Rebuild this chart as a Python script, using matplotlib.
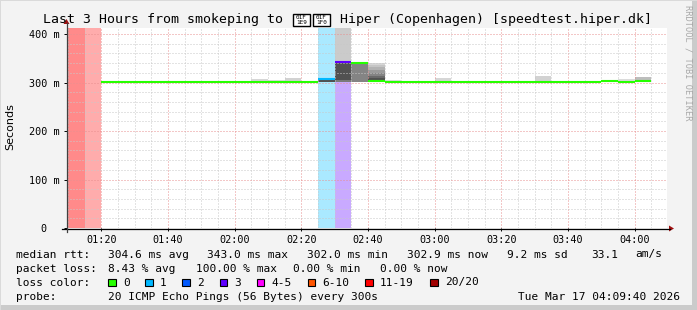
import numpy as np
import matplotlib
matplotlib.use("Agg")
import matplotlib.pyplot as plt
from matplotlib.lines import Line2D
from matplotlib.patches import Polygon, Rectangle

W, H = 697, 310
MONO = "DejaVu Sans Mono"

# time axis in minutes after midnight, 5 minute bins starting 01:05
t_start, t_end = 69 + 40 / 60, 249 + 40 / 60
bin_start = np.arange(65, 250, 5)

# median rtt (ms) per bin, nan = no answer
median_ms = [np.nan, np.nan, np.nan, 302, 302, 302, 302, 302, 302, 302,
             302, 302, 302, 302, 302, 302, 307, 343, 340, 304,
             302, 302, 302, 302, 302, 302, 302, 302, 302, 302,
             302, 302, 302, 304, 302, 303, np.nan]
# lost pings (of 20) per bin
lost = [20, 20, 19, 0, 0, 0, 0, 0, 0, 0,
        0, 0, 0, 0, 0, 0, 1, 3, 0, 0,
        0, 0, 0, 0, 0, 0, 0, 0, 0, 0,
        0, 0, 0, 0, 0, 0, 0]

# smoke bands: bin index, low / high rtt (ms), share of pings inside
smoke_bin = [12, 13, 14, 16, 17, 17, 17, 18, 18,
             19, 19, 19, 19, 19, 19, 19, 20, 23, 29, 34, 35]
smoke_lo = [302, 302, 302, 301.5, 302, 302, 305, 302, 302,
            302, 303, 303.5, 304, 304, 305, 305, 302, 302, 302, 302, 302]
smoke_hi = [307, 306, 309, 307, 430, 305, 343, 343, 339,
            340, 336, 331, 326, 320, 314, 310, 305, 309, 313, 307, 312]
smoke_share = [0.15, 0.12, 0.18, 0.8, 0.22, 0.6, 0.8, 0.2, 0.55,
               0.15, 0.25, 0.35, 0.45, 0.55, 0.68, 0.8, 0.12, 0.15, 0.18, 0.12, 0.3]

loss_labels = ["0", "1", "2", "3", "4-5", "6-10", "11-19", "20/20"]
loss_colors = ["#26ff00", "#00b8ff", "#0059ff", "#5e00ff", "#ff00ff",
               "#ff5500", "#ff0000", "#a10000"]
bg_colors = {1: "#aae9ff", 3: "#c9aaff", 19: "#ffacac", 20: "#ff8a8a"}

y_ticks = [0, 100, 200, 300, 400]
y_labels = ["0  ", "100 m", "200 m", "300 m", "400 m"]
x_ticks = [80, 100, 120, 140, 160, 180, 200, 220, 240]

# title; the flag (U+1F1E9 U+1F1F0) has no glyph in any installed font,
# so it is drawn as the hex boxes the reference shows
title_left = "Last 3 Hours from smokeping to"
title_flag = ["1F1E9", "1F1F0"]
title_right = "Hiper (Copenhagen) [speedtest.hiper.dk]"
rtt_stats = ["304.6 ms avg", "343.0 ms max", "302.0 ms min", "302.9 ms now",
             "9.2 ms sd", "33.1", "am/s"]
loss_stats = ["8.43 % avg", "100.00 % max", "0.00 % min", "0.00 % now"]
probe_text = "20 ICMP Echo Pings (56 Bytes) every 300s"
stamp = "Tue Mar 17 04:09:40 2026"


def loss_color(n):
    if n <= 3:
        return loss_colors[n]
    if n <= 5:
        return loss_colors[4]
    if n <= 10:
        return loss_colors[5]
    if n <= 19:
        return loss_colors[6]
    return loss_colors[7]


def fx(x):
    return x / W


def fy(y):
    return 1 - y / H


fig = plt.figure(figsize=(W / 100, H / 100), dpi=100, facecolor="#f3f3f3")

# frame shading
fig.add_artist(Rectangle((fx(W - 5), 0), 5 / W, 1, transform=fig.transFigure,
                         color="#cbcbcb", lw=0))
fig.add_artist(Rectangle((0, 0), 1, 5 / H, transform=fig.transFigure,
                         color="#cbcbcb", lw=0))
fig.add_artist(Rectangle((0, fy(1)), 1, 1 / H, transform=fig.transFigure,
                         color="#dadada", lw=0))
fig.add_artist(Rectangle((0, 0), 1 / W, 1, transform=fig.transFigure,
                         color="#dadada", lw=0))

ax = fig.add_axes([fx(67), fy(228), 600 / W, 200 / H])
ax.set_facecolor("white")
ax.set_xlim(t_start, t_end)
ax.set_ylim(0, 412.4)
for s in ax.spines.values():
    s.set_visible(False)

# loss backgrounds
for b, n in zip(bin_start, lost):
    if n in bg_colors:
        ax.axvspan(b, b + 5, color=bg_colors[n], lw=0, zorder=1)

# smoke
greys = plt.get_cmap("Greys")
for j, lo, hi, sh in zip(smoke_bin, smoke_lo, smoke_hi, smoke_share):
    ax.bar(bin_start[j], hi - lo, bottom=lo, width=5, align="edge",
           color=greys(0.15 + 0.75 * sh), lw=0, zorder=1.2)

# grid
ax.set_xticks(x_ticks)
ax.set_xticks(np.arange(70, 250, 5), minor=True)
ax.set_yticks(y_ticks)
ax.set_yticks(np.arange(0, 412, 20), minor=True)
ax.set_axisbelow(False)
ax.grid(which="minor", color="#c8c8c8", lw=0.72, linestyle=(0, (1, 2)))
ax.grid(which="major", color="#e89090", lw=0.72, linestyle=(0, (1, 2)))

# median rtt
for b, m, n in zip(bin_start, median_ms, lost):
    if not np.isnan(m):
        ax.hlines(m, b, b + 5, colors=loss_color(n), lw=1.5, zorder=3)

ax.set_xticklabels(["%02d:%02d" % (t // 60, t % 60) for t in x_ticks],
                   family=MONO, fontsize=7.3)
ax.set_yticklabels(y_labels, family=MONO, fontsize=7.3)
ax.tick_params(which="major", length=2.5, width=0.7, pad=3)
ax.tick_params(which="minor", length=0)
ax.tick_params(axis="x", pad=2.5)

# axes with arrows
fig.add_artist(Line2D([fx(62), fx(670)], [fy(228.5), fy(228.5)], color="black", lw=0.9))
fig.add_artist(Line2D([fx(66.5), fx(66.5)], [fy(232), fy(23)], color="#404040", lw=0.9))
fig.add_artist(Polygon([[fx(669), fy(225.5)], [fx(669), fy(231.5)], [fx(674), fy(228.5)]],
                       closed=True, transform=fig.transFigure, color="#a01010", lw=0))
fig.add_artist(Polygon([[fx(63.5), fy(24)], [fx(69.5), fy(24)], [fx(66.5), fy(19)]],
                       closed=True, transform=fig.transFigure, color="#a01010", lw=0))

# title
fig.text(fx(283), fy(19.5), title_left, ha="right", va="center", family=MONO, fontsize=9.5)
for bx, code in zip([293, 313], title_flag):
    fig.add_artist(Rectangle((fx(bx), fy(26)), 17 / W, 12 / H, transform=fig.transFigure,
                             facecolor="white", edgecolor="black", lw=1.0))
    fig.text(fx(bx + 8.5), fy(20), "0" + code[:2] + "\n" + code[2:], ha="center",
             va="center", family=MONO, fontsize=4.3, linespacing=0.9)
fig.text(fx(340), fy(19.5), title_right, ha="left", va="center", family=MONO, fontsize=9.5)

fig.text(fx(10), fy(127), "Seconds", rotation=90, ha="center", va="center",
         family="DejaVu Sans", fontsize=8)
fig.text(fx(688), fy(5), "RRDTOOL / TOBI OETIKER", rotation=-90, ha="center", va="top",
         family=MONO, fontsize=6.2, color="#a8a8a8")

# legend block
fs = 8
row_y = [254.5, 268.5, 282.5, 296.5]
fig.text(fx(16.4), fy(row_y[0]), "median rtt:", va="center", family=MONO, fontsize=fs)
for x, s in zip([107.6, 207, 306.7, 406.7, 506.7, 591, 635.6], rtt_stats):
    fig.text(fx(x), fy(row_y[0]), s, va="center", family=MONO, fontsize=fs)
fig.text(fx(16.4), fy(row_y[1]), "packet loss:", va="center", family=MONO, fontsize=fs)
for x, s in zip([107.6, 195.6, 293.3, 380], loss_stats):
    fig.text(fx(x), fy(row_y[1]), s, va="center", family=MONO, fontsize=fs)
fig.text(fx(16.4), fy(row_y[2]), "loss color:", va="center", family=MONO, fontsize=fs)
for x, lab, c in zip([108.3, 145.3, 182.2, 219.6, 256.9, 307.6, 365.3, 430.2],
                     loss_labels, loss_colors):
    fig.add_artist(Rectangle((fx(x), fy(row_y[2] + 3.8)), 7.5 / W, 7.5 / H,
                             transform=fig.transFigure, facecolor=c,
                             edgecolor="black", lw=0.8))
    fig.text(fx(x + 14.5), fy(row_y[2]), lab, va="center", family=MONO, fontsize=fs)
fig.text(fx(16.4), fy(row_y[3]), "probe:", va="center", family=MONO, fontsize=fs)
fig.text(fx(107.6), fy(row_y[3]), probe_text, va="center", family=MONO, fontsize=fs)
fig.text(fx(680), fy(row_y[3]), stamp, va="center", ha="right", family=MONO, fontsize=fs)

fig.savefig("out.png", dpi=100, facecolor=fig.get_facecolor())
